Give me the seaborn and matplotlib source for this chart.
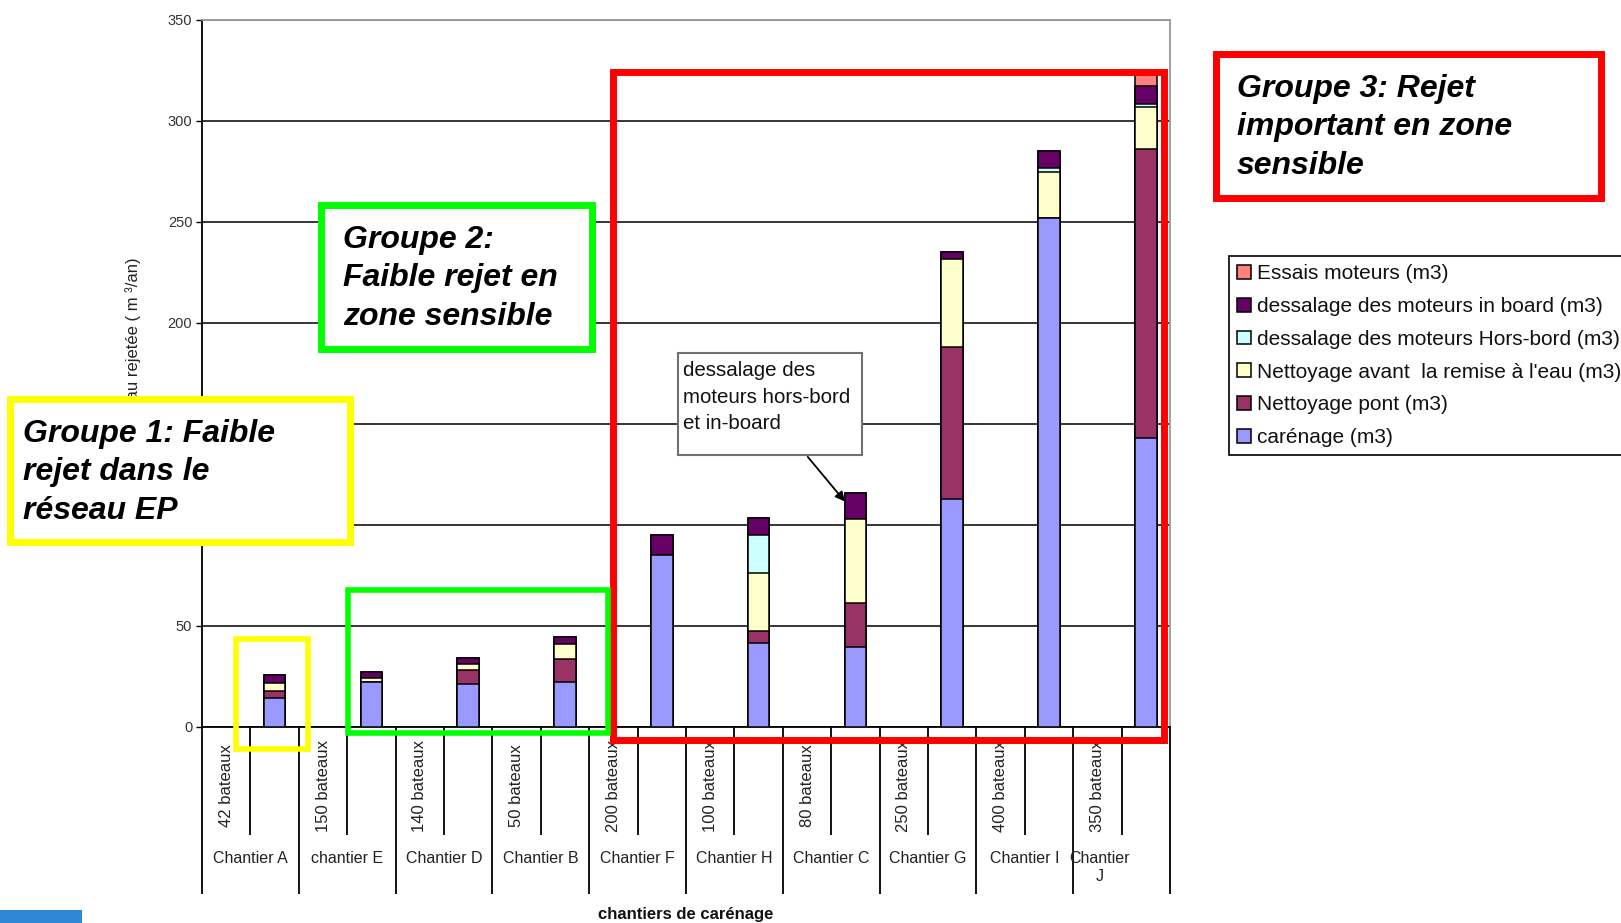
import numpy as np
import pandas as pd
import seaborn as sns
import matplotlib
matplotlib.use("Agg")
import matplotlib.pyplot as plt
from matplotlib.patches import Rectangle, Patch

# ---------------- data ----------------
chantiers = ["Chantier A", "chantier E", "Chantier D", "Chantier B", "Chantier F",
             "Chantier H", "Chantier C", "Chantier G", "Chantier I", "Chantier\nJ"]
bateaux = ["42 bateaux", "150 bateaux", "140 bateaux", "50 bateaux", "200 bateaux",
           "100 bateaux", "80 bateaux", "250 bateaux", "400 bateaux", "350 bateaux"]

carenage = [14.5, 22.1, 21.3, 22.1, 85.0, 41.4, 39.4, 112.7, 252.0, 143.2]
nettoyage_pont = [3.5, 0.0, 6.8, 11.4, 0.0, 6.3, 21.8, 75.3, 0.0, 142.8]
nettoyage_avant = [4.0, 2.3, 3.1, 7.4, 0.0, 28.4, 41.9, 43.7, 22.5, 20.6]
dessalage_hors_bord = [0.0, 0.0, 0.0, 0.0, 0.0, 18.9, 0.0, 0.0, 2.0, 1.7]
dessalage_in_board = [3.5, 2.8, 2.8, 3.8, 10.2, 8.3, 12.6, 3.4, 8.6, 9.0]
essais_moteurs = [0.0, 0.0, 0.0, 0.0, 0.0, 0.0, 0.0, 0.0, 0.0, 5.1]

series_names = ["carénage (m3)", "Nettoyage pont (m3)",
                "Nettoyage avant  la remise à l'eau (m3)",
                "dessalage des moteurs Hors-bord (m3)",
                "dessalage des moteurs in board (m3)", "Essais moteurs (m3)"]
series_values = [carenage, nettoyage_pont, nettoyage_avant, dessalage_hors_bord,
                 dessalage_in_board, essais_moteurs]
series_colors = ["#9999FF", "#993366", "#FFFFCC", "#CCFFFF", "#660066", "#FF8080"]

y_ticks = [0, 50, 100, 150, 200, 250, 300, 350]
# labels 100 and 150 are hidden behind the "Groupe 1" box in the reference
y_tick_labels = ["0", "50", "", "", "200", "250", "300", "350"]

# ---------------- figure ----------------
sns.set_theme(style="white")
plt.rcParams["font.family"] = ["Liberation Sans", "DejaVu Sans"]

W, H = 1621, 923
fig = plt.figure(figsize=(W / 100, H / 100), dpi=100)
fig.patch.set_facecolor("white")


def fx(x):
    return x / W


def fy(y):
    return 1 - y / H


ax = fig.add_axes([fx(202), fy(727), (1170 - 202) / W, (727 - 19.6) / H])
ax.set_facecolor("white")

slots = [f"s{i}" for i in range(2 * len(chantiers))]
bar_slots = slots[1::2]

cum = np.cumsum(np.array(series_values), axis=0)
for k in range(len(series_names) - 1, -1, -1):
    df = pd.DataFrame({"slot": bar_slots, "value": cum[k]})
    sns.barplot(data=df, x="slot", y="value", order=slots, color=series_colors[k],
                saturation=1, width=0.45, edgecolor="black", linewidth=1.1,
                errorbar=None, ax=ax, zorder=3)

ax.set_xlim(-0.5, 2 * len(chantiers) - 0.5)
ax.set_ylim(0, 350)
ax.set_xticks([])
ax.set_xlabel("")
ax.set_yticks(y_ticks)
ax.set_yticklabels(y_tick_labels, fontsize=10.5, color="#333333")
ax.tick_params(axis="y", direction="out", length=4, width=1, color="black", pad=3, left=True)
ax.yaxis.grid(True, color="black", linewidth=1.1)
ax.set_axisbelow(True)
for s in ["left", "bottom"]:
    ax.spines[s].set_color("black")
    ax.spines[s].set_linewidth(1.3)
for s in ["top", "right"]:
    ax.spines[s].set_color("#9a9a9a")
    ax.spines[s].set_linewidth(1.3)

ax.set_ylabel("Quantité d'eau rejetée ( m ³/an)", fontsize=12, color="#222222")
ax.yaxis.set_label_coords(-0.063, 0.5)

# multi-level category axis
n = 2 * len(chantiers)
long_b = np.arange(-0.5, n, 2)
short_b = np.arange(0.5, n - 1, 2)
ax.vlines(long_b, -82.7, 0, colors="black", linewidth=1.3, clip_on=False)
ax.vlines(short_b, -53.5, 0, colors="black", linewidth=1.3, clip_on=False)
for i, (c, b) in enumerate(zip(chantiers, bateaux)):
    ax.text(2 * i, -29.0, b, rotation=90, ha="center", va="center", fontsize=12,
            color="#222222", clip_on=False)
    xc = 2 * i + 0.5 if "\n" not in c else 2 * i + 0.05
    ax.text(xc, -61.5, c, ha="center", va="top", fontsize=11.5, color="#222222",
            clip_on=False, linespacing=1.25)

fig.text(fx(686), fy(914), "chantiers de carénage", ha="center", va="center",
         fontsize=12, fontweight="bold", color="#111111")

# highlight rectangles (data coordinates)
ax.add_patch(Rectangle((7.99, -6.4), 19.38 - 7.99, 324.3 + 6.4, fill=False,
                       edgecolor="#FF0000", linewidth=5, clip_on=False, zorder=8))
ax.add_patch(Rectangle((0.20, -10.9), 1.69 - 0.20, 43.6 + 10.9, fill=False,
                       edgecolor="#FFFF00", linewidth=4, clip_on=False, zorder=8))
ax.add_patch(Rectangle((2.52, -3.0), 7.89 - 2.52, 67.8 + 3.0, fill=False,
                       edgecolor="#00FF00", linewidth=4, clip_on=False, zorder=8))

# annotation callout
ax.add_patch(Rectangle((9.33, 134.7), 13.14 - 9.33, 185.1 - 134.7, facecolor="white",
                       edgecolor="#707070", linewidth=1.5, zorder=6))
ax.text(9.43, 181.0, "dessalage des\nmoteurs hors-bord\net in-board", ha="left", va="top",
        fontsize=14.8, color="#111111", linespacing=1.5, zorder=7)
ax.annotate("", xy=(12.82, 110.5), xytext=(11.98, 134.7),
            arrowprops=dict(arrowstyle="-|>", color="black", lw=1.3, mutation_scale=14),
            zorder=7)


# group boxes (figure pixel coordinates)
def group_box(x0, y0, x1, y1, color, text, tx, ty):
    fig.add_artist(Rectangle((fx(x0), fy(y1)), (x1 - x0) / W, (y1 - y0) / H,
                             transform=fig.transFigure, facecolor="white",
                             edgecolor=color, linewidth=5, zorder=10))
    fig.text(fx(tx), fy(ty), text, ha="left", va="top", fontsize=23, fontweight="bold",
             fontstyle="italic", color="black", linespacing=1.36, zorder=11)


group_box(10, 399, 350, 542, "#FFFF00", "Groupe 1: Faible\nrejet dans le\nréseau EP", 23, 419)
group_box(321, 205, 592, 349, "#00FF00", "Groupe 2:\nFaible rejet en\nzone sensible", 343, 225)
group_box(1216, 54, 1601, 198, "#FF0000", "Groupe 3: Rejet\nimportant en zone\nsensible", 1237, 74)

# blue tab at bottom-left
fig.add_artist(Rectangle((0, 0), fx(82), 13 / H, transform=fig.transFigure,
                         facecolor="#2F86D2", edgecolor="none", zorder=10))

# legend
handles = [Patch(facecolor=series_colors[k], edgecolor="black", linewidth=1.1,
                 label=series_names[k]) for k in range(len(series_names) - 1, -1, -1)]
leg = fig.legend(handles=handles, loc="upper left", bbox_to_anchor=(fx(1229), fy(256)),
                 fontsize=15, frameon=True, fancybox=False, framealpha=1,
                 edgecolor="black", handlelength=0.65, handleheight=0.65,
                 handletextpad=0.3, labelspacing=0.66, borderpad=0.4, borderaxespad=0)
leg.get_frame().set_linewidth(1.2)
for t in leg.get_texts():
    t.set_color("#111111")

fig.savefig("out.png", dpi=100, facecolor="white")
